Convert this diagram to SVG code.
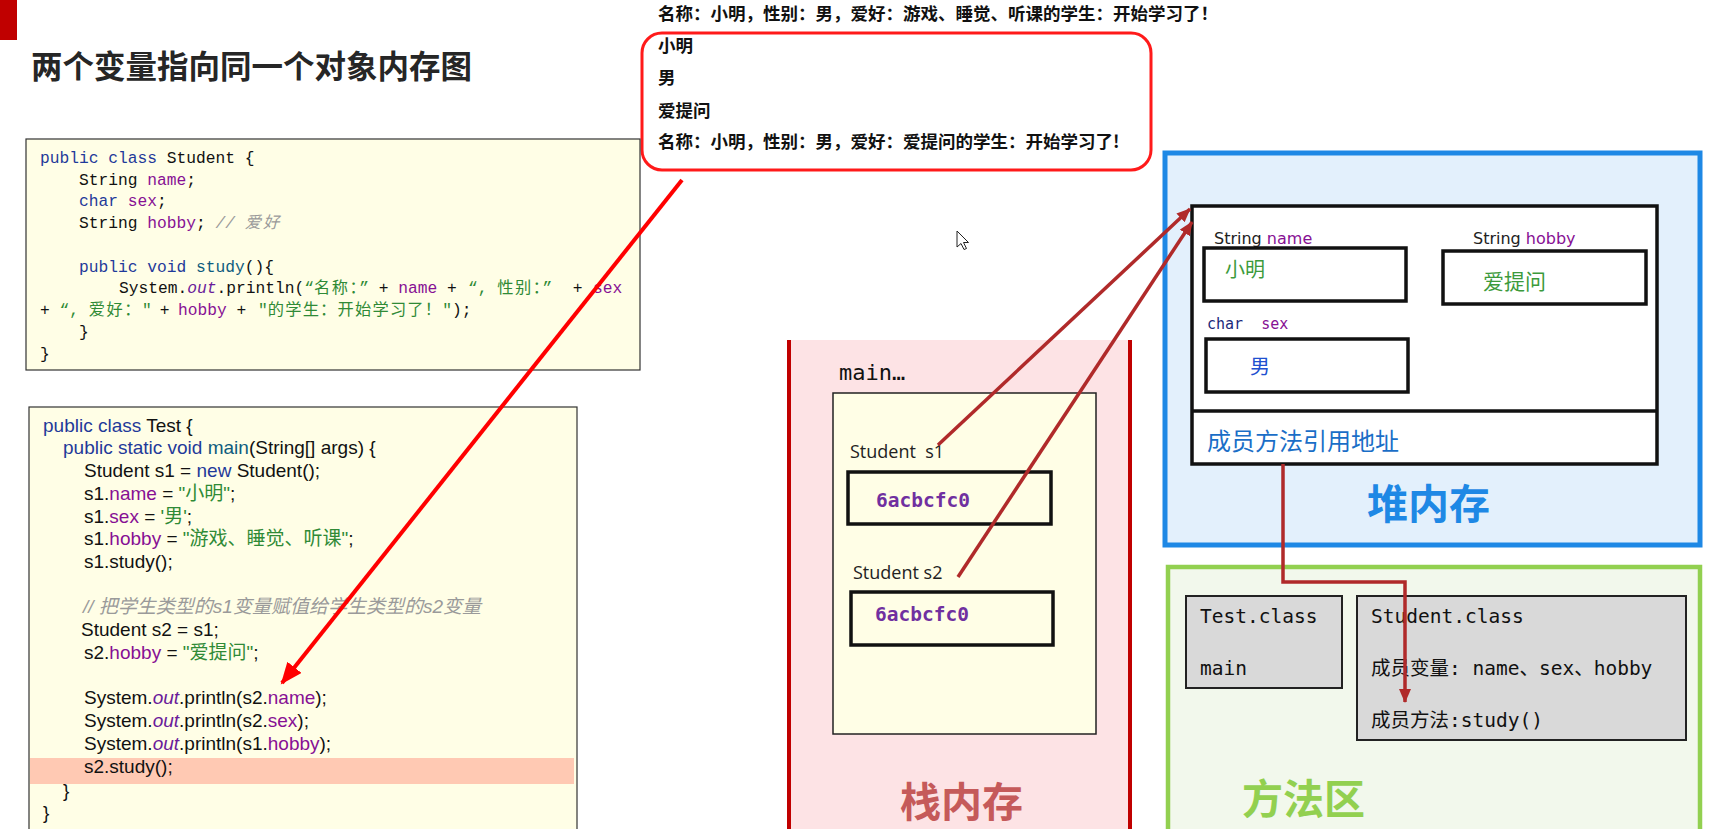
<svg xmlns="http://www.w3.org/2000/svg" width="1717" height="829" viewBox="0 0 1717 829">
<style>
.cjk{font-family:"Noto Sans CJK SC","Noto Sans",sans-serif}
.mono{font-family:"Liberation Mono","Noto Sans CJK SC",monospace}
.dmono{font-family:"DejaVu Sans Mono","Noto Sans CJK SC",monospace}
.sans{font-family:"Liberation Sans","Noto Sans CJK SC",sans-serif}
.kw{fill:#1f3a9a}
.fld{fill:#871094}
.mth{fill:#0e5c7e}
.str{fill:#2f8a36}
.cmt{fill:#9a9a9a;font-style:italic}
.out{fill:#6a1b9a;font-style:italic}
.code{fill:#fffee6;stroke:#333;stroke-width:1.2}
.box{fill:#fff;stroke:#111;stroke-width:3.5}
.vbox{fill:#fffee6;stroke:#111;stroke-width:3.5}
.gbox{fill:#d9d9d9;stroke:#222;stroke-width:2}
.ref{fill:none;stroke:#b02a2a;stroke-width:3.5}
.big{font-family:"Noto Sans CJK SC",sans-serif;font-weight:bold;font-size:41px}
.out1{font-family:"Noto Sans CJK SC",sans-serif;font-weight:bold;font-size:17.5px;fill:#111}
</style>
<defs>
<marker id="redHead" markerUnits="userSpaceOnUse" markerWidth="24" markerHeight="20" refX="20" refY="9" orient="auto">
<path d="M0,0 L22,9 L0,18 z" fill="#ff0000"/>
</marker>
<marker id="darkHead" markerUnits="userSpaceOnUse" markerWidth="16" markerHeight="14" refX="13" refY="6" orient="auto">
<path d="M0,0 L14,6 L0,12 z" fill="#b02a2a"/>
</marker>
</defs>
<rect width="1717" height="829" fill="#ffffff"/>
<rect x="0" y="0" width="17" height="40" fill="#c00000"/>
<text id="title" x="31" y="78" class="cjk" font-weight="bold" font-size="31.5" fill="#262626">两个变量指向同一个对象内存图</text>

<g id="output">
<text class="out1" x="658" y="20">名称：小明，性别：男，爱好：游戏、睡觉、听课的学生：开始学习了！</text>
<rect x="642" y="33" width="509" height="137" rx="20" fill="none" stroke="#ff1a1a" stroke-width="3"/>
<text class="out1" x="658" y="52">小明</text>
<text class="out1" x="658" y="84">男</text>
<text class="out1" x="658" y="117">爱提问</text>
<text class="out1" x="658" y="148">名称：小明，性别：男，爱好：爱提问的学生：开始学习了!</text>
</g>

<g id="student-code">
<rect class="code" x="26" y="139" width="614" height="231"/>
<g class="mono" font-size="16.25" fill="#111" xml:space="preserve">
<text x="40" y="163"><tspan class="kw">public class</tspan> Student {</text>
<text x="79" y="185">String <tspan class="fld">name</tspan>;</text>
<text x="79" y="206"><tspan class="kw">char</tspan> <tspan class="fld">sex</tspan>;</text>
<text x="79" y="228">String <tspan class="fld">hobby</tspan>; <tspan class="cmt">// <tspan letter-spacing="2">爱好</tspan></tspan></text>
<text x="79" y="272"><tspan class="kw">public void</tspan> <tspan class="mth">study</tspan>(){</text>
<text y="293"><tspan x="119">System.</tspan><tspan class="out">out</tspan>.println(<tspan class="str">“<tspan letter-spacing="1.5">名称：</tspan>”</tspan> + <tspan class="fld">name</tspan> + <tspan class="str" x="468">“, <tspan letter-spacing="1.5">性别：</tspan>”</tspan><tspan x="563"> + </tspan><tspan class="fld" x="593">sex</tspan></text>
<text y="315"><tspan x="40">+ </tspan><tspan class="str">“, <tspan letter-spacing="1.5">爱好：</tspan>"</tspan><tspan x="150"> + </tspan><tspan class="fld" x="178">hobby</tspan> + <tspan class="str" x="258">"<tspan letter-spacing="1.2">的学生：开始学习了！</tspan>"</tspan>);</text>
<text x="79" y="337">}</text>
<text x="40" y="359">}</text>
</g>
</g>

<g id="test-code">
<rect class="code" x="29" y="407" width="548" height="440"/>
<rect x="30" y="758" width="544" height="26" fill="#ffc9b3"/>
<g class="sans" font-size="19" fill="#111" xml:space="preserve">
<text x="43" y="432"><tspan class="kw">public class</tspan> Test {</text>
<text x="63" y="454"><tspan class="kw">public static void</tspan> <tspan class="mth">main</tspan>(String[] args) {</text>
<text x="84" y="477">Student s1 = <tspan class="kw">new</tspan> Student();</text>
<text x="84" y="500">s1.<tspan class="fld">name</tspan> = <tspan class="str">"小明"</tspan>;</text>
<text x="84" y="523">s1.<tspan class="fld">sex</tspan> = <tspan class="str">'男'</tspan>;</text>
<text x="84" y="545">s1.<tspan class="fld">hobby</tspan> = <tspan class="str">"游戏、睡觉、听课"</tspan>;</text>
<text x="84" y="568">s1.study();</text>
<text x="83" y="613" class="cmt">// 把学生类型的s1变量赋值给学生类型的s2变量</text>
<text x="81" y="636">Student s2 = s1;</text>
<text x="84" y="659">s2.<tspan class="fld">hobby</tspan> = <tspan class="str">"爱提问"</tspan>;</text>
<text x="84" y="704">System.<tspan class="out">out</tspan>.println(s2.<tspan class="fld">name</tspan>);</text>
<text x="84" y="727">System.<tspan class="out">out</tspan>.println(s2.<tspan class="fld">sex</tspan>);</text>
<text x="84" y="750">System.<tspan class="out">out</tspan>.println(s1.<tspan class="fld">hobby</tspan>);</text>
<text x="84" y="773">s2.study();</text>
<text x="63" y="797">}</text>
<text x="43" y="819">}</text>
</g>
</g>

<g id="stack">
<rect x="789" y="340" width="341" height="500" fill="#fde3e5"/>
<line x1="789" y1="340" x2="789" y2="829" stroke="#c00000" stroke-width="4"/>
<line x1="1130" y1="340" x2="1130" y2="829" stroke="#c00000" stroke-width="4"/>
<text x="839" y="380" class="dmono" font-size="22" fill="#111">main…</text>
<rect x="833" y="393" width="263" height="341" fill="#fffee6" stroke="#222" stroke-width="1.5"/>
<text x="900" y="817" class="big" fill="#c55a5a">栈内存</text>
</g>
<g id="s1">
<text x="850" y="458" font-family="Open Sans,sans-serif" font-size="18" fill="#222" xml:space="preserve">Student  s1</text>
<rect class="vbox" x="848" y="472" width="203" height="52"/>
<text x="876" y="507" class="dmono" font-weight="bold" font-size="19.5" fill="#7030a0">6acbcfc0</text>
</g>
<g id="s2">
<text x="853" y="579" font-family="Open Sans,sans-serif" font-size="18" fill="#222">Student s2</text>
<rect class="vbox" x="851" y="592" width="202" height="53"/>
<text x="875" y="621" class="dmono" font-weight="bold" font-size="19.5" fill="#7030a0">6acbcfc0</text>
</g>

<g id="heap">
<rect x="1165" y="153" width="535" height="392" fill="#e3f0fc" stroke="#1e88e5" stroke-width="5"/>
<text x="1367" y="519" class="big" fill="#1e88e5">堆内存</text>
</g>
<g id="student-object">
<rect x="1192" y="206" width="465" height="258" class="box"/>
<line x1="1192" y1="411" x2="1657" y2="411" stroke="#111" stroke-width="3.5"/>
<text x="1214" y="244" font-family="DejaVu Sans,sans-serif" font-size="16" fill="#222">String <tspan fill="#871094">name</tspan></text>
<rect x="1204" y="248" width="202" height="53" class="box" stroke-width="3"/>
<text x="1225" y="277" class="cjk" font-size="20" fill="#3c9a3c">小明</text>
<text x="1473" y="244" font-family="DejaVu Sans,sans-serif" font-size="16" fill="#222">String <tspan fill="#871094">hobby</tspan></text>
<rect x="1443" y="251" width="203" height="53" class="box" stroke-width="3"/>
<text x="1483" y="289" class="cjk" font-size="21" fill="#3c9a3c">爱提问</text>
<text x="1207" y="329" class="dmono" font-size="15" fill="#1b2a7a" xml:space="preserve">char  <tspan fill="#871094">sex</tspan></text>
<rect x="1206" y="339" width="202" height="53" class="box" stroke-width="3"/>
<text x="1250" y="374" class="cjk" font-size="20" fill="#2050d0">男</text>
<text x="1207" y="450" class="cjk" font-size="24" fill="#1a6ec7">成员方法引用地址</text>
</g>

<g id="method-area">
<rect x="1168" y="567" width="532" height="270" fill="#f2f8ec" stroke="#92d050" stroke-width="4.5"/>
<text x="1242" y="814" class="big" font-size="43" fill="#92d050">方法区</text>
</g>
<g id="test-class">
<rect class="gbox" x="1186" y="596" width="156" height="92"/>
<text x="1200" y="623" class="dmono" font-size="19.5" fill="#111">Test.class</text>
<text x="1200" y="675" class="dmono" font-size="19.5" fill="#111">main</text>
</g>
<g id="student-class">
<rect class="gbox" x="1357" y="596" width="329" height="144"/>
<text x="1371" y="623" class="dmono" font-size="19.5" fill="#111">Student.class</text>
<text x="1371" y="675" class="dmono" font-size="19.5" fill="#111">成员变量: name、sex、hobby</text>
<text x="1371" y="727" class="dmono" font-size="19.5" fill="#111">成员方法:study()</text>
</g>

<g id="connectors">
<line x1="682" y1="180" x2="282" y2="683" stroke="#ff0000" stroke-width="4" marker-end="url(#redHead)"/>
<line x1="938" y1="445" x2="1190" y2="209" class="ref" marker-end="url(#darkHead)"/>
<line x1="958" y1="577" x2="1192" y2="222" class="ref" marker-end="url(#darkHead)"/>
<polyline points="1283,464 1283,582 1405,582 1405,702" class="ref" marker-end="url(#darkHead)"/>
</g>

<g id="cursor" transform="translate(957,231)">
<path d="M0,0 L0,16 L4,12.5 L7,18.5 L9.5,17.5 L6.5,11.5 L11.5,11.5 z" fill="#fff" stroke="#222" stroke-width="1"/>
</g>
</svg>
